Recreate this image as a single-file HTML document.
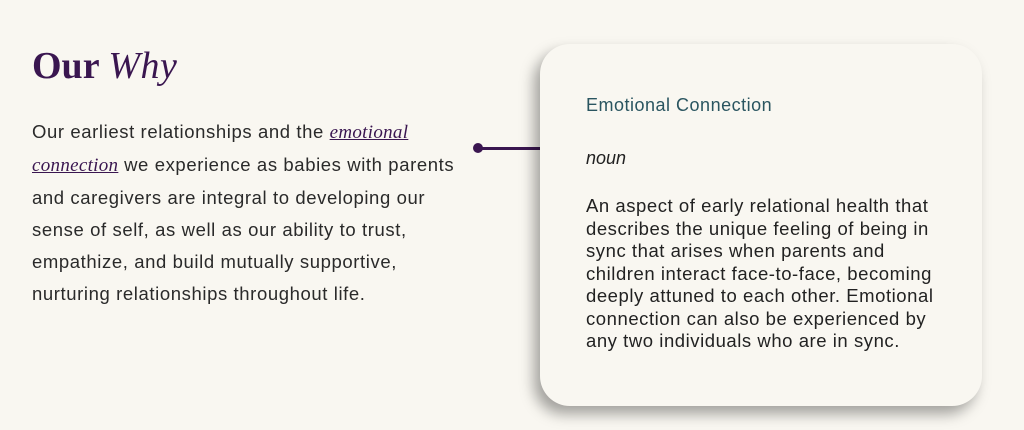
<!DOCTYPE html>
<html><head><meta charset="utf-8"><style>
body{margin:0;width:1024px;height:430px;background:#f9f7f1;position:relative;overflow:hidden;font-family:"Liberation Sans",sans-serif}
h1{position:absolute;left:32px;top:44px;margin:0;font:bold 38px/44px "Liberation Serif",serif;color:#3a1650}
h1 i{font-weight:normal;letter-spacing:0.5px}
.p{position:absolute;left:32px;top:116px;width:500px;font-size:18.5px;letter-spacing:0.6px;line-height:32px;color:#2a2a2a;white-space:nowrap}
.p a{font-family:"Liberation Serif",serif;font-style:italic;color:#3a1650;text-decoration:underline;font-size:19px;letter-spacing:0.3px}
.dot{position:absolute;left:473px;top:143px;width:10px;height:10px;border-radius:50%;background:#3a1650}
.line{position:absolute;left:478px;top:147px;width:64px;height:3px;background:#3a1650}
.card{position:absolute;left:540px;top:44px;width:442px;height:362px;border-radius:30px;background:#f9f7f1;box-shadow:-6px 8px 14px rgba(0,0,0,.35)}
.t{position:absolute;left:46px;top:51px;font-size:18px;letter-spacing:0.5px;color:#2a5560}
.n{position:absolute;left:46px;top:104px;font-size:18px;font-style:italic;color:#222}
.b{position:absolute;left:46px;top:151px;width:390px;font-size:18.5px;letter-spacing:0.55px;line-height:22.5px;color:#222;white-space:nowrap}
</style></head><body>
<h1>Our <i>Why</i></h1>
<div class="p">Our earliest relationships and the <a>emotional</a><br><a>connection</a> we experience as babies with parents<br>and caregivers are integral to developing our<br>sense of self, as well as our ability to trust,<br>empathize, and build mutually supportive,<br>nurturing relationships throughout life.</div>
<div class="line"></div><div class="dot"></div>
<div class="card">
<div class="t">Emotional Connection</div>
<div class="n">noun</div>
<div class="b">An aspect of early relational health that<br>describes the unique feeling of being in<br>sync that arises when parents and<br>children interact face-to-face, becoming<br>deeply attuned to each other. Emotional<br>connection can also be experienced by<br>any two individuals who are in sync.</div>
</div>
</body></html>
